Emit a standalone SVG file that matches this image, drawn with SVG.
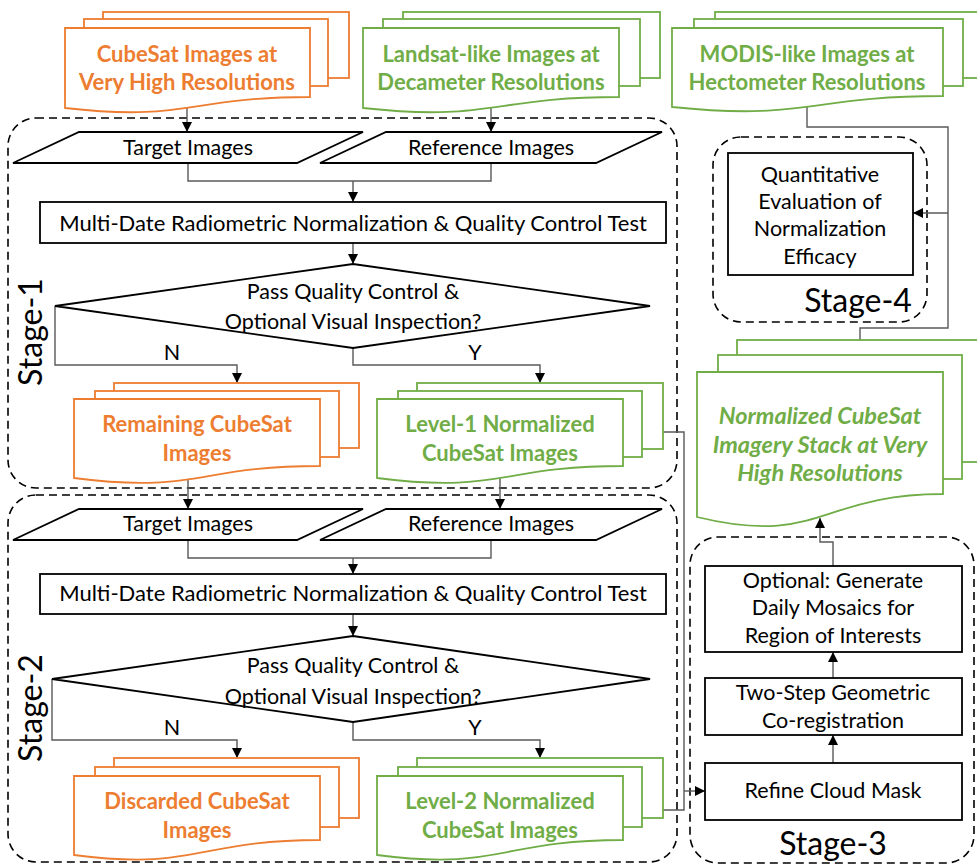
<svg xmlns="http://www.w3.org/2000/svg" width="977" height="866" viewBox="0 0 977 866">
<defs>
<marker id="ah" viewBox="0 0 10 10" refX="10" refY="5" markerWidth="10" markerHeight="10" markerUnits="userSpaceOnUse" orient="auto"><path d="M0,0 L10,5 L0,10 Z" fill="#000"/></marker>
<style>
.stage{fill:none;stroke:#000;stroke-width:1.6;stroke-dasharray:8 5}
.box{fill:#fff;stroke:#000;stroke-width:1.8}
.org{fill:#fff;stroke:#ED7D31;stroke-width:1.8}
.grn{fill:#fff;stroke:#70AD47;stroke-width:1.8}
.t{font-family:Lato,"Open Sans",sans-serif;font-size:21.5px;fill:#000;text-anchor:middle}
.tw{font-size:22px}
.tb{font-family:Lato,"Open Sans",sans-serif;font-size:22px;font-weight:bold;text-anchor:middle}
.ti{font-size:23.5px;font-style:italic}
.to{fill:#ED7D31}
.tg{fill:#70AD47}
.st{font-family:Lato,"Open Sans",sans-serif;font-size:32px;fill:#000;text-anchor:middle}
.c{fill:none;stroke:#595959;stroke-width:1.4}
</style>
</defs>

<g id="stage-frames">
<rect id="stage1" class="stage" x="8" y="118" width="669" height="370" rx="28"/>
<rect id="stage2" class="stage" x="8" y="495" width="669" height="367" rx="28"/>
<rect id="stage3" class="stage" x="690" y="537" width="284" height="326" rx="28"/>
<rect id="stage4" class="stage" x="713" y="137" width="214" height="185" rx="28"/>
<text class="st" transform="translate(42,332) rotate(-90)">Stage-1</text>
<text class="st" transform="translate(42,708) rotate(-90)">Stage-2</text>
<text class="st" x="833" y="855">Stage-3</text>
<text class="st" x="858" y="312">Stage-4</text>
</g>

<g id="connectors">
<path class="c" d="M187,105 V132" marker-end="url(#ah)"/>
<path class="c" d="M491,105 V132" marker-end="url(#ah)"/>
<path class="c" d="M188,163 V181 H491 V163"/>
<path class="c" d="M353,181 V202" marker-end="url(#ah)"/>
<path class="c" d="M353,243 V264" marker-end="url(#ah)"/>
<path class="c" d="M55,306 V365 H237 V383" marker-end="url(#ah)"/>
<path class="c" d="M353,348 V365 H540 V383" marker-end="url(#ah)"/>
<path class="c" d="M188,478 V509" marker-end="url(#ah)"/>
<path class="c" d="M500,478 V509" marker-end="url(#ah)"/>
<path class="c" d="M188,540 V558 H491 V540"/>
<path class="c" d="M353,558 V574" marker-end="url(#ah)"/>
<path class="c" d="M353,614 V636" marker-end="url(#ah)"/>
<path class="c" d="M52,679 V740 H237 V758" marker-end="url(#ah)"/>
<path class="c" d="M353,722 V740 H540 V758" marker-end="url(#ah)"/>
<path class="c" d="M663,432 H684 V810 H663"/>
<path class="c" d="M684,791 H705" marker-end="url(#ah)"/>
<path class="c" d="M833,763 V735" marker-end="url(#ah)"/>
<path class="c" d="M833,678 V652" marker-end="url(#ah)"/>
<path class="c" d="M833,566 V542 H820 V518" marker-end="url(#ah)"/>
<path class="c" d="M807,104 V127 H948 V328 H860 V340"/>
<path class="c" d="M948,213 H913" marker-end="url(#ah)"/>
</g>

<g id="cubesat-input">
<rect class="org" x="103" y="12" width="246" height="66"/>
<rect class="org" x="84" y="19" width="244" height="67"/>
<path class="org" d="M65,28 H310 V97 C187.5,97 187.5,122 65,108 Z"/>
<text class="tb to" x="187" y="62">CubeSat Images at</text>
<text class="tb to" x="187" y="90">Very High Resolutions</text>
</g>

<g id="landsat-input">
<rect class="grn" x="403" y="12" width="257" height="66"/>
<rect class="grn" x="383" y="19" width="257" height="67"/>
<path class="grn" d="M363,28 H619 V97 C491,97 491,122 363,108 Z"/>
<text class="tb tg" x="491" y="62">Landsat-like Images at</text>
<text class="tb tg" x="491" y="90">Decameter Resolutions</text>
</g>

<g id="modis-input">
<rect class="grn" x="715" y="12" width="280" height="66"/>
<rect class="grn" x="694" y="19" width="269" height="67"/>
<path class="grn" d="M672,28 H943 V96 C807.5,96 807.5,121 672,107 Z"/>
<text class="tb tg" x="807" y="62">MODIS-like Images at</text>
<text class="tb tg" x="807" y="90">Hectometer Resolutions</text>
</g>

<g id="s1-target">
<polygon class="box" points="79,132 363,132 297,163 13,163"/>
<text class="t" x="188" y="155">Target Images</text>
</g>
<g id="s1-reference">
<polygon class="box" points="386,132 662,132 596,163 320,163"/>
<text class="t" x="491" y="155">Reference Images</text>
</g>
<g id="s1-normalize">
<rect class="box" x="40" y="202" width="626" height="41"/>
<text class="t tw" x="353" y="231">Multi-Date Radiometric Normalization &amp; Quality Control Test</text>
</g>
<g id="s1-decision">
<polygon class="box" points="353,264 650,306 353,348 55,306"/>
<text class="t" x="353" y="299">Pass Quality Control &amp;</text>
<text class="t" x="353" y="329">Optional Visual Inspection?</text>
<text class="t" x="172" y="360">N</text>
<text class="t" x="475" y="360">Y</text>
</g>
<g id="s1-remaining">
<rect class="org" x="114" y="383" width="245" height="65"/>
<rect class="org" x="95" y="391" width="244" height="66"/>
<path class="org" d="M74,399 H320 V466 C197,466 197,494 74,478 Z"/>
<text class="tb to" x="197" y="432">Remaining CubeSat</text>
<text class="tb to" x="197" y="461">Images</text>
</g>
<g id="s1-level1">
<rect class="grn" x="417" y="383" width="246" height="66"/>
<rect class="grn" x="398" y="391" width="244" height="66"/>
<path class="grn" d="M377,399 H623 V466 C500,466 500,494 377,478 Z"/>
<text class="tb tg" x="500" y="432">Level-1 Normalized</text>
<text class="tb tg" x="500" y="461">CubeSat Images</text>
</g>

<g id="s2-target">
<polygon class="box" points="79,509 363,509 297,540 13,540"/>
<text class="t" x="188" y="531">Target Images</text>
</g>
<g id="s2-reference">
<polygon class="box" points="386,509 662,509 596,540 320,540"/>
<text class="t" x="491" y="531">Reference Images</text>
</g>
<g id="s2-normalize">
<rect class="box" x="40" y="574" width="626" height="40"/>
<text class="t tw" x="353" y="601">Multi-Date Radiometric Normalization &amp; Quality Control Test</text>
</g>
<g id="s2-decision">
<polygon class="box" points="353,636 650,679 353,722 52,679"/>
<text class="t" x="353" y="673">Pass Quality Control &amp;</text>
<text class="t" x="353" y="704">Optional Visual Inspection?</text>
<text class="t" x="172" y="735">N</text>
<text class="t" x="475" y="735">Y</text>
</g>
<g id="s2-discarded">
<rect class="org" x="114" y="758" width="245" height="60"/>
<rect class="org" x="95" y="767" width="244" height="60"/>
<path class="org" d="M74,776 H320 V840 C197,840 197,871 74,855 Z"/>
<text class="tb to" x="197" y="809">Discarded CubeSat</text>
<text class="tb to" x="197" y="838">Images</text>
</g>
<g id="s2-level2">
<rect class="grn" x="417" y="758" width="246" height="60"/>
<rect class="grn" x="398" y="767" width="244" height="60"/>
<path class="grn" d="M377,776 H623 V840 C500,840 500,871 377,855 Z"/>
<text class="tb tg" x="500" y="809">Level-2 Normalized</text>
<text class="tb tg" x="500" y="838">CubeSat Images</text>
</g>

<g id="s3-refine">
<rect class="box" x="705" y="763" width="257" height="57"/>
<text class="t" x="833" y="798">Refine Cloud Mask</text>
</g>
<g id="s3-coreg">
<rect class="box" x="705" y="678" width="257" height="57"/>
<text class="t" x="833" y="700">Two-Step Geometric</text>
<text class="t" x="833" y="728">Co-registration</text>
</g>
<g id="s3-mosaic">
<rect class="box" x="705" y="566" width="257" height="86"/>
<text class="t" x="833" y="588">Optional: Generate</text>
<text class="t" x="833" y="615">Daily Mosaics for</text>
<text class="t" x="833" y="643">Region of Interests</text>
</g>

<g id="s4-evaluation">
<rect class="box" x="728" y="153" width="185" height="122"/>
<text class="t" x="820" y="182">Quantitative</text>
<text class="t" x="820" y="209">Evaluation of</text>
<text class="t" x="820" y="236">Normalization</text>
<text class="t" x="820" y="264">Efficacy</text>
</g>

<g id="normalized-stack">
<rect class="grn" x="737" y="340" width="270" height="122"/>
<rect class="grn" x="718" y="355" width="244" height="124"/>
<path class="grn" d="M697,372 H943 V494 C820,494 820,547 697,517 Z"/>
<text class="tb tg ti" x="820" y="424">Normalized CubeSat</text>
<text class="tb tg ti" x="820" y="453">Imagery Stack at Very</text>
<text class="tb tg ti" x="820" y="481">High Resolutions</text>
</g>
</svg>
